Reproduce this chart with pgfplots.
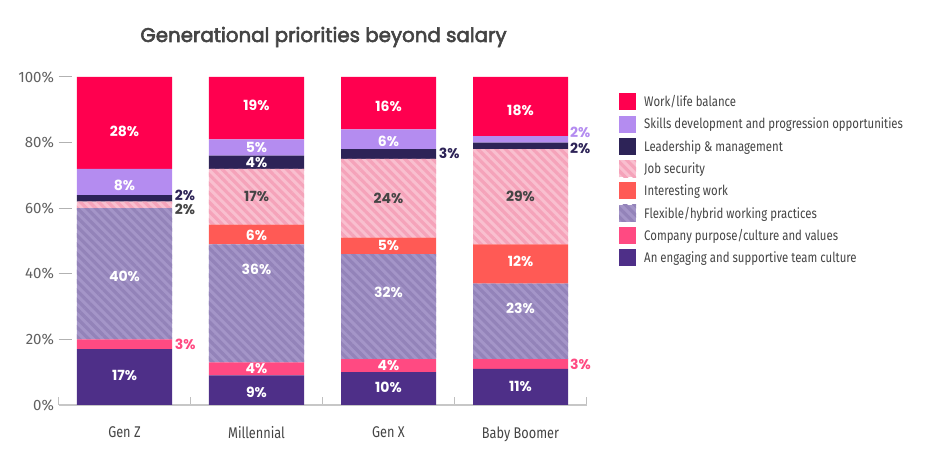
\documentclass[border=0pt]{standalone}
\usepackage{pgfplots}
\pgfplotsset{compat=1.18}
\usepackage{pgfplotstable}
\usepackage{fontspec}
\usetikzlibrary{patterns.meta}
\setmainfont{Fira Sans}[FakeStretch=0.82]
\newfontfamily\popfont{Poppins}
\newfontfamily\titlefont{Poppins}[FakeBold=3]
\newfontfamily\tickfont{Fira Sans}
\definecolor{cWork}{HTML}{FF004F}
\definecolor{cSkill}{HTML}{B48CF0}
\definecolor{cLead}{HTML}{2D2357}
\definecolor{cJobA}{HTML}{F9BFCF}
\definecolor{cJobB}{HTML}{F5A3BA}
\definecolor{cInt}{HTML}{FF5A55}
\definecolor{cFlexA}{HTML}{A495C8}
\definecolor{cFlexB}{HTML}{9383B9}
\definecolor{cComp}{HTML}{FF4A82}
\definecolor{cEng}{HTML}{4E2F88}
\definecolor{cText}{HTML}{444444}

\pgfplotstableread{
x eng comp flex int job lead skill work
0 17 3 40 0 2 2 8 28
1 9 4 36 6 17 4 5 19
2 10 4 32 5 24 3 6 16
3 11 3 23 12 29 2 2 18
}\data

\pgfplotstableread{
x y v
0 9.1 17
0 39.3 40
0 67.1 8
0 83.3 28
1 3.9 9
1 11.2 4
1 41.4 36
1 51.8 6
1 73.9 4
1 78.4 5
1 91.5 19
2 5.4 10
2 11.9 4
2 34.4 32
2 48.6 5
2 80.5 6
2 90.9 16
3 5.8 11
3 29.5 23
3 43.9 12
3 89.7 18
}\whitelabels

\pgfplotstableread{
x y v
1 63.7 17
2 63.0 24
3 63.7 29
}\greylabels

\pgfplotstableread{
x y v
0.38 64.0 2
2.38 76.7 3
3.375 78.3 2
}\navylabels

\pgfplotstableread{
x y v
0.38 59.5 2
}\greyout

\pgfplotstableread{
x y v
0.38 18.5 3
3.375 12.4 3
}\pinklabels

\pgfplotstableread{
x y v
3.375 83.0 2
}\lavlabels

\begin{document}
\begin{tikzpicture}
\path[use as bounding box] (0,0) rectangle (925bp,471bp);
\node[font=\titlefont\fontsize{19.8bp}{22bp}\selectfont, text=cText] at (323.5bp,434bp) {Generational priorities beyond salary};
\begin{axis}[
  at={(58.5bp,66bp)}, anchor=south west, scale only axis,
  width=528bp, height=328bp,
  xmin=-0.5, xmax=3.5, ymin=0, ymax=100,
  ybar stacked, bar width=95bp,
  axis x line*=bottom, axis y line*=left,
  y axis line style={draw=none},
  x axis line style={draw=black!22, line width=2bp},
  tick align=inside,
  xtick={0,1,2,3},
  xticklabels={Gen Z, Millennial, Gen X, Baby Boomer},
  xtick style={draw=none},
  minor xtick={-0.5,0.5,1.5,2.5,3.5},
  minor x tick style={draw=black!25, line width=1bp},
  minor tick length=8bp,
  major tick length=13bp,
  x tick label style={font=\fontsize{15.5bp}{17bp}\selectfont, text=cText, yshift=-18bp},
  ytick={0,20,40,60,80,100},
  yticklabel={\pgfmathprintnumber{\tick}\%},
  y tick label style={font=\tickfont\fontsize{15bp}{17bp}\selectfont, text=black!62, xshift=-1bp},
  ytick style={draw=black!30, line width=1bp},
  /pgf/number format/assume math mode=true,
  reverse legend,
  legend cell align=left,
  legend style={at={(1.0616,0.951)}, anchor=north west, draw=none, fill=none,
    inner sep=0pt, row sep=5.3bp,
    font=\fontsize{13.9bp}{15bp}\selectfont, text=cText,
    nodes={inner sep=0pt},
    /tikz/every odd column/.append style={column sep=8bp}},
  legend image code/.code={\fill[#1] (0bp,-8.5bp) rectangle (17bp,8.5bp);},
]
\addplot[fill=cEng, draw=none] table[x=x,y=eng]{\data};
\addlegendentry{An engaging and supportive team culture}
\addplot[fill=cComp, draw=none] table[x=x,y=comp]{\data};
\addlegendentry{Company purpose/culture and values}
\addplot[fill=cFlexA, draw=none, postaction={pattern={Lines[angle=-45,distance=6.5bp,line width=3.2bp]}, pattern color=cFlexB}] table[x=x,y=flex]{\data};
\addlegendentry{Flexible/hybrid working practices}
\addplot[fill=cInt, draw=none] table[x=x,y=int]{\data};
\addlegendentry{Interesting work}
\addplot[fill=cJobA, draw=none, postaction={pattern={Lines[angle=-45,distance=6.5bp,line width=3.2bp]}, pattern color=cJobB}] table[x=x,y=job]{\data};
\addlegendentry{Job security}
\addplot[fill=cLead, draw=none] table[x=x,y=lead]{\data};
\addlegendentry{Leadership \& management}
\addplot[fill=cSkill, draw=none] table[x=x,y=skill]{\data};
\addlegendentry{Skills development and progression opportunities}
\addplot[fill=cWork, draw=none] table[x=x,y=work]{\data};
\addlegendentry{Work/life balance}
\end{axis}
\begin{axis}[
  at={(58.5bp,66bp)}, anchor=south west, scale only axis,
  width=528bp, height=328bp,
  xmin=-0.5, xmax=3.5, ymin=0, ymax=100,
  hide axis, clip=false,
  point meta=explicit,
  /pgf/number format/assume math mode=true,
  nodes near coords={\pgfmathprintnumber{\pgfplotspointmeta}\%},
  every node near coord/.append style={font=\popfont\bfseries\fontsize{14bp}{16bp}\selectfont, anchor=center, inner sep=0pt},
]
\addplot[only marks, mark=*, mark size=0pt, mark options={draw=none,fill=none}, every node near coord/.append style={text=white}] table[x=x,y=y,meta=v]{\whitelabels};
\addplot[only marks, mark=*, mark size=0pt, mark options={draw=none,fill=none}, every node near coord/.append style={text=cText}] table[x=x,y=y,meta=v]{\greylabels};
\addplot[only marks, mark=*, mark size=0pt, mark options={draw=none,fill=none}, every node near coord/.append style={text=cLead, anchor=west}] table[x=x,y=y,meta=v]{\navylabels};
\addplot[only marks, mark=*, mark size=0pt, mark options={draw=none,fill=none}, every node near coord/.append style={text=cText, anchor=west}] table[x=x,y=y,meta=v]{\greyout};
\addplot[only marks, mark=*, mark size=0pt, mark options={draw=none,fill=none}, every node near coord/.append style={text=cComp, anchor=west}] table[x=x,y=y,meta=v]{\pinklabels};
\addplot[only marks, mark=*, mark size=0pt, mark options={draw=none,fill=none}, every node near coord/.append style={text=cSkill, anchor=west}] table[x=x,y=y,meta=v]{\lavlabels};
\end{axis}
\end{tikzpicture}
\end{document}
